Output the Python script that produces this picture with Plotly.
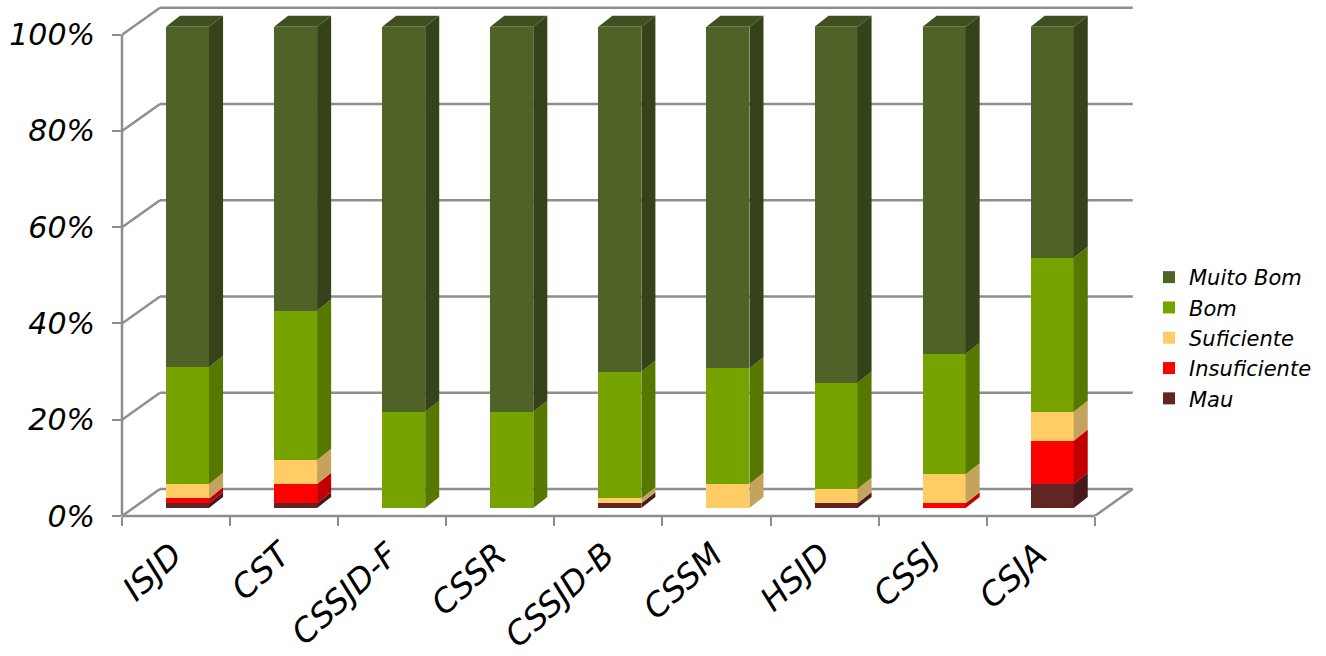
import plotly.graph_objects as go

categories = ["ISJD", "CST", "CSSJD-F", "CSSR", "CSSJD-B", "CSSM", "HSJD", "CSSJ", "CSJA"]
mau = [1, 1, 0, 0, 1, 0, 1, 0, 5]
insuficiente = [1, 4, 0, 0, 0, 0, 0, 1, 9]
suficiente = [3, 5, 0, 0, 1, 5, 3, 6, 6]
bom = [24.3, 31, 20, 20, 26.3, 24, 22, 25, 32]
muito_bom = [70.7, 59, 80, 80, 71.7, 71, 74, 68, 48]
y_ticks = [0, 20, 40, 60, 80, 100]

series = [
    ("Muito Bom", muito_bom, "#4f6228", "#36431a"),
    ("Bom", bom, "#76a300", "#567800"),
    ("Suficiente", suficiente, "#ffcc66", "#c4a45c"),
    ("Insuficiente", insuficiente, "#ff0000", "#c00000"),
    ("Mau", mau, "#632523", "#471a19"),
]
stack_order = ["Mau", "Insuficiente", "Suficiente", "Bom", "Muito Bom"]
by_name = {s[0]: s for s in series}

FONT = "DejaVu Sans"
GRID = "#8e8e8e"
LINE_W = 2.5
# pseudo-3D geometry, in axis units
WALL_DX, WALL_DY = 0.3515, 5.6
BAR_W, BAR_OFF = 0.398, 0.106
BAR_LIFT = 1.66
SIDE_DX, SIDE_DY = 0.13, 2.3
X_MAX, Y_MAX = 9.4, 107
PX_X, PX_Y = 108.111, 4.81  # pixels per axis unit

fig = go.Figure()


def wall(x0, y0, x1, y1, xref="x", yref="y"):
    fig.add_shape(type="line", layer="below", xref=xref, yref=yref, x0=x0, y0=y0, x1=x1, y1=y1,
                  line=dict(color=GRID, width=LINE_W))


for v in y_ticks:
    wall(0, v, WALL_DX, v + WALL_DY)
    wall(WALL_DX, v + WALL_DY, 9 + WALL_DX, v + WALL_DY)
wall(9, 0, 9 + WALL_DX, WALL_DY)
# front axis lines (stop at 100 % and at the last category)
wall(0, 0, 0, 100, xref="paper")
wall(0, 0, 9, 0, yref="paper")

centers = [i + 0.5 + BAR_OFF for i in range(len(categories))]

bases = {}
run = [BAR_LIFT] * len(categories)
for name in stack_order:
    bases[name] = list(run)
    run = [r + v for r, v in zip(run, by_name[name][1])]

for name, vals, col, _ in series:
    fig.add_trace(go.Bar(x=centers, y=vals, base=bases[name], width=BAR_W, name=name,
                         marker=dict(color=col, line=dict(width=0)), legendgroup=name))

for name in stack_order:
    _, vals, _, side = by_name[name]
    for c, b, v in zip(centers, bases[name], vals):
        if v <= 0:
            continue
        x1 = c + BAR_W / 2
        fig.add_trace(go.Scatter(
            x=[x1, x1 + SIDE_DX, x1 + SIDE_DX, x1, x1],
            y=[b, b + SIDE_DY, b + v + SIDE_DY, b + v, b],
            mode="lines", fill="toself", fillcolor=side, line=dict(width=0, color=side),
            showlegend=False, hoverinfo="skip"))
for c, b, v in zip(centers, bases["Muito Bom"], muito_bom):
    x0, x1, t = c - BAR_W / 2, c + BAR_W / 2, b + v
    fig.add_trace(go.Scatter(
        x=[x0, x1, x1 + SIDE_DX, x0 + SIDE_DX, x0],
        y=[t, t, t + SIDE_DY, t + SIDE_DY, t],
        mode="lines", fill="toself", fillcolor="#3f4f1f", line=dict(width=0, color="#3f4f1f"),
        showlegend=False, hoverinfo="skip"))

fig.update_layout(
    width=1326, height=656, autosize=False,
    margin=dict(l=122, r=1326 - 122 - X_MAX * PX_X, t=656 - 140 - Y_MAX * PX_Y, b=140, pad=0),
    paper_bgcolor="white", plot_bgcolor="white",
    barmode="overlay", bargap=0,
    font=dict(family=FONT, color="#000000"),
    legend=dict(xref="container", yref="container", x=1149 / 1326, xanchor="left",
                y=1 - 257 / 656, yanchor="top", traceorder="normal", tracegroupgap=5,
                font=dict(size=21, family=FONT, style="italic", color="#000000"),
                bgcolor="rgba(0,0,0,0)"),
    xaxis=dict(range=[0, X_MAX], automargin=False, tickmode="array",
               tickvals=[i + 0.47 for i in range(9)],
               ticktext=categories, ticks="", tickangle=-43, showgrid=False, zeroline=False,
               showline=False, ticklabelstandoff=12,
               tickfont=dict(size=33, family=FONT, style="italic", color="#000000"),
               minor=dict(tickmode="array", tickvals=list(range(10)), ticks="outside",
                          ticklen=9, tickwidth=2, tickcolor=GRID, showgrid=False)),
    yaxis=dict(range=[0, Y_MAX], automargin=False, tickmode="array", tickvals=y_ticks,
               ticktext=[f"{v}%" for v in y_ticks], ticks="outside", ticklen=9, tickwidth=2,
               tickcolor=GRID, showgrid=False, zeroline=False, showline=False,
               ticklabelstandoff=11,
               tickfont=dict(size=30, family=FONT, style="italic", color="#000000")),
)

fig.write_html("out.html", config={"displayModeBar": False},
               post_script="document.body.style.margin='0';document.body.style.overflow='hidden';")
